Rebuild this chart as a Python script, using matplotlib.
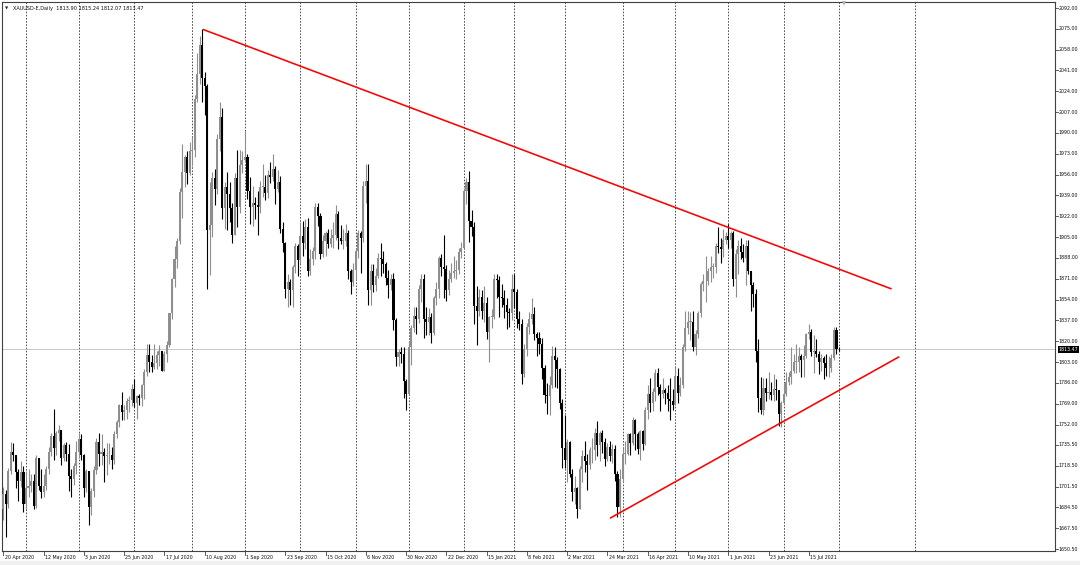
import numpy as np
import pandas as pd
import matplotlib
matplotlib.use("Agg")
import matplotlib.pyplot as plt
from matplotlib.transforms import blended_transform_factory
from matplotlib.patches import Rectangle

# ---------------- data (XAUUSD daily) ----------------
first_open = 1683.0
last_open = 1813.90

closes = [
    # Apr 2020
    1695,1687,1714,1730,1727,1713,1706,1713,1687,
    # May 2020
    1700,1702,1706,1686,1725,1702,1697,1702,1716,1730,1743,1733,1745,1748,1725,1735,1728,1710,1708,1718,1730,
    # Jun 2020
    1740,1727,1700,1714,1685,1698,1715,1738,1728,1730,1726,1727,1727,1723,1744,1754,1768,1762,1764,1771,1772,1781,
    # Jul 2020
    1770,1775,1774,1784,1795,1809,1803,1799,1802,1809,1812,1796,1810,1817,1843,1871,1887,1902,1942,1958,1970,1957,1975,
    # Aug 2020
    1976,2018,2038,2062,2035,2028,1911,1915,1953,1944,1985,2003,1929,1946,1940,1929,1907,1953,1930,1964,1968,
    # Sep 2020
    1970,1943,1930,1933,1931,1930,1946,1946,1941,1956,1954,1961,1944,1950,1912,1900,1863,1868,1862,1881,1898,1886,
    # Oct 2020
    1906,1900,1913,1877,1887,1894,1930,1922,1891,1902,1908,1899,1904,1907,1924,1904,1902,1902,1908,1877,1868,1878,
    # Nov 2020
    1894,1908,1904,1947,1951,1862,1877,1866,1873,1888,1887,1883,1872,1866,1871,1837,1807,1811,1810,1788,1777,
    # Dec 2020
    1815,1831,1841,1838,1863,1871,1838,1836,1840,1827,1855,1863,1888,1881,1879,1862,1871,1876,1877,1878,1893,1896,
    # Jan 2021
    1943,1950,1918,1913,1849,1845,1856,1845,1851,1828,1840,1840,1871,1870,1856,1855,1850,1844,1843,1863,
    # Feb 2021
    1860,1838,1834,1793,1814,1832,1838,1842,1826,1823,1818,1798,1776,1775,1784,1808,1805,1797,1770,1733,
    # Mar 2021
    1723,1738,1712,1697,1700,1683,1716,1726,1722,1719,1731,1731,1745,1735,1745,1738,1724,1734,1726,1732,1712,1685,1708,
    # Apr 2021
    1728,1728,1744,1737,1756,1744,1732,1747,1736,1764,1777,1770,1779,1794,1783,1777,1780,1778,1773,1771,1768,
    # May 2021
    1792,1778,1784,1815,1831,1836,1836,1815,1826,1843,1867,1869,1869,1877,1881,1881,1898,1897,1895,1903,1906,
    # Jun 2021
    1903,1908,1871,1891,1898,1893,1888,1898,1877,1866,1859,1812,1774,1764,1782,1778,1779,1776,1781,1780,1761,1770,
    # Jul 2021
    1777,1787,1791,1796,1803,1803,1808,1805,1808,1826,1828,1811,1812,1810,1803,1806,1802,1798,1798,1806,1829,1814,
    # Aug 2021
    1813.47,
]

highs = [
    1701,1699,1717,1738,1737,1725,1716,1722,1718,
    1714,1716,1712,1712,1727,1722,1716,1712,1718,1734,1745,1765,1747,1752,1748,1737,1738,1736,1716,1721,1739,
    1745,1744,1728,1716,1714,1700,1718,1741,1745,1744,1733,1737,1737,1734,1747,1756,1769,1779,1768,1774,1775,1785,
    1789,1776,1777,1785,1797,1818,1818,1809,1818,1812,1817,1812,1812,1820,1843,1872,1898,1904,1945,1981,1972,1975,1983,
    1987,2021,2055,2069,2075,2040,2030,1950,1958,1961,1989,2015,2010,1950,1958,1950,1933,1957,1976,1976,1975,
    1992,1973,1954,1947,1938,1943,1951,1965,1956,1960,1966,1973,1963,1960,1955,1917,1901,1875,1871,1882,1900,1899,
    1917,1918,1920,1921,1895,1897,1933,1933,1925,1907,1910,1912,1912,1917,1931,1926,1915,1912,1916,1911,1879,1884,
    1896,1911,1910,1951,1965,1965,1883,1883,1880,1892,1900,1894,1885,1878,1875,1876,1839,1814,1815,1815,1789,
    1820,1833,1848,1848,1866,1875,1875,1848,1847,1843,1857,1868,1890,1891,1907,1882,1878,1884,1890,1886,1896,1901,
    1945,1953,1959,1927,1917,1865,1863,1862,1865,1856,1841,1846,1875,1875,1873,1867,1862,1855,1847,1875,
    1875,1863,1845,1838,1818,1835,1844,1855,1848,1828,1828,1823,1801,1786,1792,1816,1815,1807,1798,1773,
    1760,1740,1739,1716,1710,1701,1718,1731,1739,1728,1734,1741,1749,1755,1747,1748,1741,1737,1739,1736,1735,1714,1716,
    1733,1739,1745,1745,1758,1757,1746,1748,1748,1766,1784,1790,1782,1797,1798,1785,1790,1782,1784,1790,1781,
    1799,1798,1791,1818,1845,1845,1844,1845,1829,1845,1868,1875,1890,1880,1890,1884,1900,1913,1904,1912,1909,
    1916,1910,1910,1895,1903,1904,1899,1903,1903,1877,1868,1863,1822,1791,1790,1790,1795,1787,1793,1789,1780,1771,
    1786,1795,1795,1815,1810,1818,1815,1810,1817,1827,1834,1830,1825,1822,1812,1810,1808,1810,1808,1810,1832,1832,
    1815.24,
]

lows = [
    1674,1660,1684,1712,1722,1700,1690,1701,1681,
    1683,1693,1697,1683,1684,1699,1692,1693,1699,1712,1726,1723,1727,1739,1719,1722,1722,1698,1693,1703,1712,
    1725,1723,1693,1697,1670,1678,1693,1712,1718,1719,1705,1711,1720,1716,1720,1741,1750,1756,1756,1757,1762,1767,
    1766,1757,1768,1767,1773,1792,1795,1795,1797,1797,1800,1796,1796,1803,1815,1838,1864,1880,1899,1921,1946,1948,1956,
    1963,1970,2015,2030,2015,2005,1863,1874,1905,1931,1940,1975,1920,1912,1911,1917,1900,1911,1913,1925,1957,
    1966,1936,1916,1914,1920,1907,1925,1938,1935,1937,1949,1951,1932,1942,1908,1893,1855,1848,1850,1848,1876,1873,
    1883,1890,1895,1873,1874,1882,1887,1914,1887,1889,1890,1896,1897,1896,1903,1895,1899,1895,1898,1871,1859,1865,
    1871,1888,1876,1901,1933,1850,1850,1860,1861,1872,1873,1876,1866,1855,1862,1829,1800,1800,1802,1774,1764,
    1776,1801,1828,1826,1835,1852,1823,1825,1825,1819,1825,1850,1855,1873,1855,1853,1858,1868,1872,1871,1875,1888,
    1897,1932,1901,1906,1834,1817,1841,1838,1836,1822,1803,1831,1838,1855,1840,1848,1839,1830,1832,1837,
    1847,1831,1829,1785,1791,1808,1826,1834,1821,1808,1810,1789,1770,1761,1760,1782,1783,1782,1765,1717,
    1717,1705,1709,1690,1687,1676,1683,1705,1713,1699,1716,1721,1723,1726,1722,1729,1718,1722,1722,1721,1706,1677,1677,
    1705,1720,1727,1727,1735,1731,1728,1723,1731,1735,1757,1762,1763,1771,1776,1763,1774,1769,1763,1756,1764,
    1769,1770,1775,1782,1812,1826,1821,1812,1809,1823,1840,1861,1852,1866,1868,1872,1876,1892,1884,1889,1899,
    1896,1896,1865,1856,1875,1887,1885,1866,1875,1845,1848,1803,1762,1761,1760,1771,1773,1772,1771,1772,1751,1750,
    1769,1775,1784,1785,1794,1794,1795,1791,1791,1806,1822,1808,1794,1807,1793,1796,1789,1792,1791,1795,1805,1810,
    1812.07,
]

holidays = ["2020-12-25", "2021-01-01", "2021-04-02"]
date_labels = ["20 Apr 2020", "12 May 2020", "3 Jun 2020", "25 Jun 2020", "17 Jul 2020",
               "10 Aug 2020", "1 Sep 2020", "23 Sep 2020", "15 Oct 2020", "6 Nov 2020",
               "30 Nov 2020", "22 Dec 2020", "15 Jan 2021", "8 Feb 2021", "2 Mar 2021",
               "24 Mar 2021", "16 Apr 2021", "10 May 2021", "1 Jun 2021", "23 Jun 2021",
               "15 Jul 2021"]
price_labels = ["2092.00", "2075.00", "2058.00", "2041.00", "2024.00", "2007.00", "1990.00",
                "1973.00", "1956.00", "1939.00", "1922.00", "1905.00", "1888.00", "1871.00",
                "1854.00", "1837.00", "1820.00", "1803.00", "1786.00", "1769.00", "1752.00",
                "1735.50", "1718.50", "1701.50", "1684.50", "1667.50", "1650.50"]
current_price = 1813.47
title = "XAUUSD-E,Daily  1813.90 1815.24 1812.07 1813.47"

# trendlines (bar index, price)
upper_trend_x = [79.2, 352.9]
upper_trend_y = [2074.6, 1862.7]
lower_trend_x = [241.0, 355.9]
lower_trend_y = [1675.6, 1807.4]
future_grid_bars = [362]

# ---------------- build ----------------
dates = pd.bdate_range("2020-04-20", "2021-08-02")
dates = dates[~dates.isin(pd.to_datetime(holidays))]
n = min(len(dates), len(closes), len(highs), len(lows))
dates = dates[:n]
c = np.array(closes[:n], float)
o = np.concatenate([[first_open], c[:-1]])
o[-1] = last_open
h = np.maximum(np.array(highs[:n], float), np.maximum(o, c))
l = np.minimum(np.array(lows[:n], float), np.minimum(o, c))
x = np.arange(n)

W, H = 1080, 565
fig = plt.figure(figsize=(W / 100, H / 100), dpi=100)
fig.patch.set_facecolor("white")
ax_left, ax_right, ax_top, ax_bot = 2, 1055, 2, 551
ax = fig.add_axes([ax_left / W, (H - ax_bot) / H, (ax_right - ax_left) / W, (ax_bot - ax_top) / H])

px_per_bar = 2.517
x0_px = 3.35
ax.set_xlim((ax_left - x0_px) / px_per_bar, (ax_right - x0_px) / px_per_bar)
ax.set_ylim(1648.87, 2096.9)
ax.set_xticks([])
ax.set_yticks([])
for s in ax.spines.values():
    s.set_color("#404040")
    s.set_linewidth(0.8)

# vertical grid at first bar of each month + future
month_key = dates.to_period("M")
grid_idx = [i for i in range(1, n) if month_key[i] != month_key[i - 1]]
for gi in list(grid_idx) + future_grid_bars:
    ax.axvline(gi, color="#4a4a4a", lw=0.7, ls=(0, (1.6, 1.6)), zorder=0)

# current price line
ax.axhline(current_price, color="#c8c8c8", lw=0.7, zorder=0.5)

# candles
up = c >= o
bull_col = "#8e8e8e"
bear_col = "#000000"
cols = np.where(up, bull_col, bear_col)
ax.vlines(x, l, h, colors=cols, lw=0.8, zorder=2)
body_bottom = np.minimum(o, c)
body_h = np.maximum(np.abs(c - o), 0.6)
ax.bar(x, body_h, bottom=body_bottom, width=0.82, color=cols, linewidth=0, zorder=3)

# trendlines
ax.plot(upper_trend_x, upper_trend_y, color="#ff0000", lw=1.15, zorder=4, solid_capstyle="butt")
ax.plot(lower_trend_x, lower_trend_y, color="#ff0000", lw=1.15, zorder=4, solid_capstyle="butt")

fs = 3.45
# right price axis labels
ty = blended_transform_factory(ax.transAxes, ax.transData)
ax_w_px = ax_right - ax_left
for lab in price_labels:
    v = float(lab)
    ax.plot([1.0, 1.0 + 2.5 / ax_w_px], [v, v], color="#404040", lw=0.6, transform=ty, clip_on=False)
    ax.text(1.0 + 3.5 / ax_w_px, v, lab, transform=ty, fontsize=fs, va="center", ha="left",
            color="#101010", clip_on=False)
ax.text(1.0 + 3.5 / ax_w_px, current_price, "1813.47", transform=ty, fontsize=fs, va="center",
        ha="left", color="white", clip_on=False,
        bbox=dict(boxstyle="square,pad=0.2", fc="black", ec="none"))

# bottom date labels
tx = blended_transform_factory(ax.transData, ax.transAxes)
ax_h_px = ax_bot - ax_top
date_str = [f"{d.day} {d.strftime('%b %Y')}" for d in dates]
for lab in date_labels:
    if lab in date_str:
        i = date_str.index(lab)
        ax.plot([i, i], [0, -4 / ax_h_px], color="#404040", lw=0.6, transform=tx, clip_on=False)
        ax.text(i + 0.5, -6.5 / ax_h_px, lab, transform=tx, fontsize=fs, va="center", ha="left",
                color="#101010", clip_on=False)

# title and markers
fig.text(13 / W, 1 - 8.5 / H, title, fontsize=fs + 0.2, va="center", ha="left", color="#101010")
fig.text(5 / W, 1 - 8.5 / H, "\u25bc", fontsize=3, va="center", ha="left", color="#202020")
fig.text(842 / W, 1 - 4 / H, "\u25bc", fontsize=4, va="center", ha="left", color="#b0b0b0")

# bottom light strip
fig.patches.append(Rectangle((0, 0), 1, 4 / H, transform=fig.transFigure, color="#f0f0f0", zorder=0))

fig.savefig("out.png", dpi=100, facecolor="white")
